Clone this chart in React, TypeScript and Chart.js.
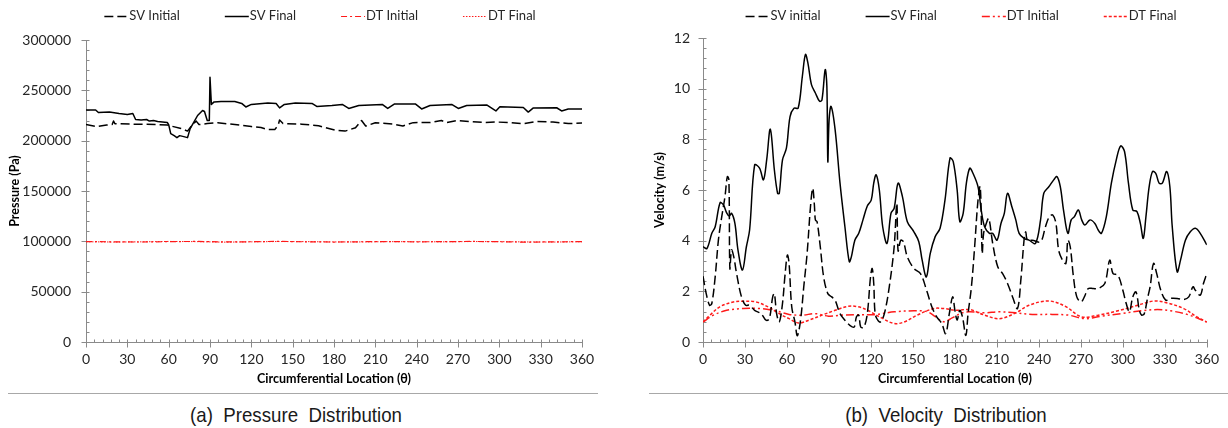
import React, { useEffect, useRef } from "react";
import { Chart, registerables } from "chart.js";

Chart.register(...registerables);

// ---------- (a) Pressure distribution, Pa ----------
const pThetaSvInitial = [0, 8, 15, 19, 20, 21, 35, 52, 59, 69, 73.7, 77, 80, 82, 88, 95.6, 108, 120, 127, 132, 137, 139.5, 140.5, 143, 156.6, 168.8, 181, 188, 195.6, 200, 203, 210, 223, 230, 237.5, 249.7, 258, 262, 269, 278.5, 289.6, 298, 307.6, 317, 327, 339, 350, 360];
const pSvInitial = [216000, 214000, 215500, 216000, 219500, 216800, 216400, 216000, 215500, 212000, 209500, 215500, 219400, 216000, 217000, 217800, 216000, 214000, 213000, 211000, 211000, 215500, 220500, 217000, 216400, 214800, 210500, 209500, 212800, 220000, 214500, 217800, 216500, 214600, 217900, 218000, 220000, 218000, 220000, 219000, 218000, 218500, 218000, 216800, 219000, 218500, 217000, 217500];

const pThetaSvFinal = [0, 7, 9, 17, 24, 30, 34, 36, 40, 44, 46, 49, 52, 59, 60, 61.5, 64, 66, 68, 71, 73.7, 75.6, 78.5, 81, 84.6, 86, 88, 89.5, 90, 91, 93, 98, 108, 113, 116, 120, 132, 138, 140.5, 144, 152, 164, 167.5, 178.5, 186, 190.7, 198, 215, 219, 224, 239, 243.6, 249.7, 265.4, 270.2, 276.3, 290.8, 297.5, 300.4, 317.4, 321, 324.7, 341.6, 345.2, 350, 360];
const pSvFinal = [230500, 230500, 228000, 228500, 227000, 226000, 227000, 221000, 220500, 221000, 219500, 220000, 219000, 218000, 216000, 207000, 205000, 203000, 205000, 204000, 203000, 212000, 219000, 225000, 230000, 229000, 220000, 220000, 263000, 236000, 238500, 239000, 239000, 237000, 233500, 236000, 237500, 237000, 232600, 236000, 237500, 237000, 234000, 235000, 236000, 232000, 235000, 236000, 232000, 236500, 236500, 231500, 235000, 236000, 232000, 235000, 235500, 229500, 233800, 233000, 228400, 232500, 232700, 229500, 231500, 231500];

const pThetaDt = [0, 20, 40, 60, 80, 100, 120, 140, 160, 180, 200, 220, 240, 260, 280, 300, 320, 340, 360];
const pDtInitial = [99800, 99500, 99300, 99700, 99900, 99400, 99600, 100000, 99500, 99300, 99600, 99800, 99500, 99700, 99900, 99600, 99200, 99500, 99700];
const pDtFinal = [99600, 99300, 99500, 99900, 99700, 99200, 99500, 99800, 99700, 99400, 99400, 99700, 99600, 99500, 99800, 99700, 99400, 99300, 99600];

// ---------- (b) Velocity distribution, m/s ----------
const vThetaSvInitial = [0, 2.3, 4.7, 6.3, 8.7, 11, 13.4, 15.7, 17.4, 18.5, 19.2, 20.4, 22, 24, 27.5, 30.5, 33.3, 36.9, 41.5, 45, 47.4, 49.8, 51, 52.6, 54.5, 56.8, 58.7, 60.3, 61.5, 63.4, 65.7, 67.4, 69.7, 72, 74.4, 76.8, 78.4, 79.6, 80.3, 81.5, 83.8, 86.2, 89.2, 92, 94.4, 97.9, 101.4, 104.9, 108, 109.6, 111.3, 112.7, 115, 117.4, 119.7, 120.9, 122, 123, 124.9, 126.8, 129.6, 133.1, 136.6, 138.5, 139.4, 141.3, 143.2, 146, 150.7, 155.4, 160, 163.5, 167, 170.6, 173.4, 176, 178.4, 180, 181.6, 183.5, 185.4, 187.8, 189.4, 191.8, 194.1, 196.5, 198.1, 199.5, 200.5, 202.4, 204.2, 207, 210.6, 214.1, 217.6, 221.2, 224.7, 227.1, 229.4, 230.6, 231.8, 235.3, 241.2, 244.7, 247.5, 249.9, 252.2, 254.1, 256.9, 259.3, 260.7, 262.4, 264.7, 267.1, 270.1, 272.5, 275.3, 278.8, 282.4, 287.1, 290.6, 293, 296.5, 300, 302.4, 304.7, 307.1, 309.4, 311.8, 313.4, 315.3, 317.6, 319.5, 321.9, 324.2, 327.1, 330.6, 334.1, 338.8, 343.5, 347.1, 350.1, 351.8, 355.3, 357.6, 360];
const vSvInitial = [2.6, 1.91, 1.45, 1.52, 2.57, 4.02, 4.95, 5.74, 6.53, 6.4, 2.9, 3.63, 3.36, 2.7, 1.78, 1.45, 1.45, 1.25, 1.12, 0.86, 0.92, 1.78, 1.91, 1.12, 0.79, 1.52, 2.7, 3.43, 3.1, 1.39, 0.79, 0.25, 0.86, 2.18, 3.5, 5.34, 6.07, 5.4, 4.82, 4.75, 3.76, 2.57, 1.91, 1.78, 1.65, 1.12, 0.86, 0.66, 0.59, 0.99, 1.06, 0.59, 0.59, 1.12, 2.57, 2.9, 2.31, 1.12, 0.86, 0.79, 1.12, 2.18, 3.76, 5.47, 3.6, 4.02, 3.96, 3.36, 2.9, 2.7, 2.0, 1.39, 0.99, 0.73, 0.33, 1.12, 1.78, 1.25, 0.86, 1.25, 0.99, 0.26, 1.12, 2.18, 3.76, 5.6, 6.13, 3.5, 4.29, 4.68, 4.88, 3.89, 2.97, 2.7, 2.31, 1.78, 1.32, 2.44, 4.02, 4.35, 4.02, 4.02, 3.96, 4.55, 4.95, 5.01, 4.68, 3.63, 3.23, 3.1, 4.02, 3.76, 2.57, 1.78, 1.58, 1.78, 2.11, 2.11, 2.11, 2.31, 3.23, 2.7, 2.64, 2.04, 1.52, 1.19, 1.78, 1.98, 1.25, 1.06, 1.12, 1.72, 2.18, 3.1, 2.7, 2.04, 1.65, 1.72, 1.72, 1.68, 1.78, 2.18, 2.04, 1.85, 2.31, 2.7];

const vThetaSvFinal = [0, 2.8, 6.3, 8.7, 12.2, 14.6, 16.9, 18.8, 20.4, 22.8, 25, 28.2, 31, 33.3, 36.9, 40.4, 43.2, 45.5, 48.1, 51, 53.3, 54.5, 56.8, 59.6, 62.2, 65, 68, 71, 73.2, 75, 77.5, 80.3, 83.3, 85, 87.3, 88.5, 89.2, 90.1, 91.5, 94.4, 97.9, 101.4, 104.5, 106, 108.5, 111.3, 114.3, 117.4, 120.2, 122, 123.7, 126, 128.4, 131.5, 134.3, 136.6, 139.4, 142.5, 146, 150.7, 154.2, 156.6, 159.6, 162.4, 165.9, 169.4, 172.9, 176.5, 178.8, 181.6, 183.5, 185.9, 188.2, 190.6, 192.9, 196.5, 198.8, 201.2, 204.7, 207, 210.1, 212.9, 215.3, 217.6, 220.7, 223.5, 225.9, 229.4, 232.9, 237.6, 241.2, 243.5, 247.1, 250.6, 252.9, 255.3, 257.6, 260.7, 263.1, 265.4, 268.2, 270.6, 272.9, 276.5, 280, 282.4, 284.7, 288.2, 291.8, 295.3, 298.4, 301.2, 304, 307.1, 310.1, 312.5, 314.6, 316.5, 318.8, 321.2, 323.5, 325.9, 328.2, 331.3, 333.6, 335.3, 338.8, 341.2, 344.7, 348.2, 351.8, 355.3, 360];
const vSvFinal = [3.76, 3.69, 4.29, 4.55, 5.5, 5.41, 5.1, 4.97, 5.08, 4.68, 3.63, 2.84, 3.76, 4.42, 6.99, 6.86, 6.4, 7.19, 8.4, 6.79, 5.87, 5.87, 7.19, 7.65, 8.9, 9.23, 9.23, 10.49, 11.35, 11.0, 10.16, 9.83, 9.5, 9.56, 10.75, 10.1, 7.12, 8.77, 9.3, 8.38, 6.27, 4.55, 3.17, 3.36, 4.02, 4.29, 4.82, 5.37, 5.6, 6.27, 6.6, 6.0, 4.55, 3.89, 5.08, 5.28, 6.27, 5.74, 4.75, 4.35, 3.96, 3.23, 2.57, 3.5, 4.16, 4.49, 5.6, 7.26, 7.12, 6.0, 4.75, 5.08, 6.27, 6.86, 6.66, 6.13, 5.21, 4.55, 4.29, 4.29, 4.02, 4.68, 5.08, 5.87, 5.34, 4.82, 4.29, 4.09, 4.02, 3.89, 4.82, 5.87, 6.13, 6.4, 6.53, 6.13, 5.21, 4.29, 4.82, 4.95, 5.21, 4.82, 4.62, 4.82, 4.68, 4.42, 4.29, 4.95, 6.27, 7.19, 7.74, 7.52, 6.27, 5.21, 5.15, 4.68, 4.09, 4.95, 6.13, 6.73, 6.66, 6.27, 6.27, 6.73, 6.13, 4.55, 2.77, 3.23, 4.02, 4.35, 4.49, 4.29, 3.83];

const vThetaDtInitial = [0, 7.5, 16.9, 28.6, 40.4, 52.1, 61.5, 71, 80.3, 89.7, 99, 108.5, 122.5, 136.6, 150.7, 160, 166, 172, 178, 185, 190.6, 201, 211.8, 223.5, 235.3, 249.4, 261.2, 273, 284.7, 298.8, 312.9, 324.7, 334.1, 345.9, 360];
const vDtInitial = [0.79, 1.06, 1.25, 1.32, 1.32, 1.23, 1.09, 1.06, 1.12, 1.02, 1.06, 1.08, 1.08, 1.19, 1.23, 1.2, 1.0, 0.8, 0.95, 1.15, 1.19, 1.15, 1.19, 1.15, 1.09, 1.09, 1.06, 0.92, 1.02, 1.12, 1.23, 1.28, 1.23, 1.09, 0.79];

const vThetaDtFinal = [0, 5, 12, 21.6, 28.6, 38, 47.4, 54.5, 61.5, 68.5, 75.6, 85, 94.4, 103.8, 110.8, 117.8, 127.2, 136.6, 143.7, 153, 164.8, 172, 181.2, 190.6, 201.2, 211.8, 223.5, 232.9, 247, 258.8, 270.6, 282.4, 296.5, 310.6, 322.4, 331.8, 343.5, 352.9, 360];
const vDtFinal = [0.79, 1.06, 1.39, 1.58, 1.61, 1.58, 1.36, 1.12, 0.92, 0.75, 0.86, 1.06, 1.25, 1.41, 1.39, 1.25, 0.96, 0.73, 0.79, 1.06, 1.32, 1.32, 1.25, 1.28, 1.06, 0.92, 1.15, 1.45, 1.62, 1.41, 0.99, 1.06, 1.23, 1.45, 1.62, 1.54, 1.32, 0.99, 0.79];

const FONT = "Lato, 'DejaVu Sans', sans-serif";
const TEXT = "#262626";
const AXIS = "#8a8a8a";
const RED = "#ff1a1a";

const pts = (xs: number[], ys: number[]) => xs.map((x, i) => ({ x, y: ys[i] }));

// Axis lines with Excel-style major (crossing) and minor (inside) tick marks
const axisDecor = {
  id: "axisDecor",
  beforeDatasetsDraw(chart: any, _args: any, opts: any) {
    const { ctx, chartArea: a, scales } = chart;
    const xs = scales.x;
    const ys = scales.y;
    const bx = Math.round(a.left) + 0.5;
    const by = Math.round(a.bottom) + 0.5;
    ctx.save();
    ctx.strokeStyle = AXIS;
    ctx.lineWidth = 1;
    ctx.beginPath();
    ctx.moveTo(bx, Math.round(a.top));
    ctx.lineTo(bx, by);
    ctx.lineTo(Math.round(a.right) + 1, by);
    const isMajor = (v: number, step: number) => Math.abs(v / step - Math.round(v / step)) < 1e-6;
    for (let i = 0; ; i++) {
      const v = xs.min + i * opts.xMinor;
      if (v > xs.max + 1e-9) break;
      const px = Math.round(xs.getPixelForValue(v)) + 0.5;
      ctx.moveTo(px, by - 3);
      ctx.lineTo(px, isMajor(v, opts.xMajor) ? by + 5 : by);
    }
    for (let i = 0; ; i++) {
      const v = ys.min + i * opts.yMinor;
      if (v > ys.max + 1e-9) break;
      const py = Math.round(ys.getPixelForValue(v)) + 0.5;
      ctx.moveTo(isMajor(v, opts.yMajor) ? bx - 5 : bx, py);
      ctx.lineTo(bx + 3, py);
    }
    ctx.stroke();
    ctx.restore();
  },
};

// Single-row legend with line samples drawn in each series' own stroke style
const lineLegend = {
  id: "lineLegend",
  afterDraw(chart: any, _args: any, opts: any) {
    const { ctx } = chart;
    ctx.save();
    ctx.font = `13px ${FONT}`;
    const items = chart.data.datasets.map((ds: any) => ({ ds, w: ctx.measureText(ds.label).width }));
    const sample = 24;
    const textGap = 1;
    const gap = opts.gap;
    const total =
      items.reduce((s: number, it: any) => s + sample + textGap + it.w, 0) + gap * (items.length - 1);
    let x = opts.center - total / 2;
    const y = opts.y;
    for (const { ds, w } of items) {
      ctx.strokeStyle = ds.borderColor;
      ctx.lineWidth = ds.borderWidth;
      ctx.setLineDash(ds.borderDash || []);
      ctx.beginPath();
      ctx.moveTo(x, Math.round(y) + 0.5);
      ctx.lineTo(x + sample, Math.round(y) + 0.5);
      ctx.stroke();
      ctx.setLineDash([]);
      ctx.fillStyle = TEXT;
      ctx.textBaseline = "middle";
      ctx.textAlign = "left";
      ctx.fillText(ds.label, x + sample + textGap, y);
      x += sample + textGap + w + gap;
    }
    ctx.restore();
  },
};

type Panel = {
  datasets: any[];
  yMax: number;
  yStep: number;
  yMinor: number;
  yTitle: string;
  yTitlePad: number;
  yWidth: number;
  yTickPad: number;
  padTop: number;
  padRight: number;
  tension: number;
  legendCenter: number;
};

function buildConfig(p: Panel): any {
  return {
    type: "line",
    data: { datasets: p.datasets },
    plugins: [axisDecor, lineLegend],
    options: {
      animation: false,
      responsive: false,
      devicePixelRatio: 1,
      layout: { padding: { top: p.padTop, right: p.padRight, left: 0, bottom: 0 } },
      elements: {
        point: { radius: 0, hoverRadius: 0 },
        line: { tension: p.tension, fill: false, borderCapStyle: "butt", borderJoinStyle: "round" },
      },
      plugins: {
        legend: { display: false },
        tooltip: { enabled: false },
        axisDecor: { xMajor: 30, xMinor: 6, yMajor: p.yStep, yMinor: p.yMinor },
        lineLegend: { center: p.legendCenter, y: 16, gap: 45 },
      },
      scales: {
        x: {
          type: "linear",
          min: 0,
          max: 360,
          grid: { display: false, drawTicks: false },
          border: { display: false },
          ticks: {
            stepSize: 30,
            autoSkip: false,
            maxRotation: 0,
            padding: 9,
            color: TEXT,
            font: { family: FONT, size: 14 },
          },
          title: {
            display: true,
            text: "Circumferential Location (θ)",
            color: "#000",
            font: { family: FONT, size: 12.5, weight: "bold" },
            padding: { top: 0, bottom: 14 },
          },
          afterFit: (s: any) => {
            s.height = 58;
          },
        },
        y: {
          type: "linear",
          min: 0,
          max: p.yMax,
          grid: { display: false, drawTicks: false },
          border: { display: false },
          ticks: {
            stepSize: p.yStep,
            padding: p.yTickPad,
            color: TEXT,
            font: { family: FONT, size: 14 },
            callback: (v: any) => String(v),
          },
          title: {
            display: true,
            text: p.yTitle,
            color: "#000",
            font: { family: FONT, size: 12.5, weight: "bold" },
            padding: { top: p.yTitlePad, bottom: 0 },
          },
          afterFit: (s: any) => {
            s.width = p.yWidth;
          },
        },
      },
    },
  };
}

const pressurePanel: Panel = {
  datasets: [
    { label: "SV Initial", data: pts(pThetaSvInitial, pSvInitial), borderColor: "#000", borderWidth: 1.5, borderDash: [9, 4] },
    { label: "SV Final", data: pts(pThetaSvFinal, pSvFinal), borderColor: "#000", borderWidth: 1.5 },
    { label: "DT Initial", data: pts(pThetaDt, pDtInitial), borderColor: RED, borderWidth: 1.2, borderDash: [6, 3, 2, 3] },
    { label: "DT Final", data: pts(pThetaDt, pDtFinal), borderColor: RED, borderWidth: 1, borderDash: [1.5, 1.5] },
  ],
  yMax: 300000,
  yStep: 50000,
  yMinor: 10000,
  yTitle: "Pressure (Pa)",
  yTitlePad: 7,
  yWidth: 86,
  yTickPad: 15,
  padTop: 40,
  padRight: 32,
  tension: 0,
  legendCenter: 320,
};

const velocityPanel: Panel = {
  datasets: [
    { label: "SV initial", data: pts(vThetaSvInitial, vSvInitial), borderColor: "#000", borderWidth: 1.5, borderDash: [9, 4] },
    { label: "SV Final", data: pts(vThetaSvFinal, vSvFinal), borderColor: "#000", borderWidth: 1.5 },
    { label: "DT Initial", data: pts(vThetaDtInitial, vDtInitial), borderColor: RED, borderWidth: 1.5, borderDash: [8, 3, 2, 3, 2, 3] },
    { label: "DT Final", data: pts(vThetaDtFinal, vDtFinal), borderColor: RED, borderWidth: 1.5, borderDash: [3, 2] },
  ],
  yMax: 12,
  yStep: 2,
  yMinor: 0.4,
  yTitle: "Velocity (m/s)",
  yTitlePad: 38,
  yWidth: 89,
  yTickPad: 13,
  padTop: 38,
  padRight: 15,
  tension: 0.35,
  legendCenter: 347,
};

function ChartPanel({ panel, left }: { panel: Panel; left: number }) {
  const ref = useRef<HTMLCanvasElement | null>(null);
  useEffect(() => {
    if (!ref.current) return;
    const chart = new Chart(ref.current, buildConfig(panel));
    return () => chart.destroy();
  }, [panel]);
  return (
    <canvas
      ref={ref}
      width={614}
      height={400}
      style={{ position: "absolute", left, top: 0, width: 614, height: 400 }}
    />
  );
}

const captionStyle: React.CSSProperties = {
  position: "absolute",
  top: 402,
  width: 400,
  textAlign: "center",
  fontFamily: "'Liberation Sans', Arial, sans-serif",
  fontSize: 21,
  lineHeight: "26px",
  color: "#1a1a1a",
  whiteSpace: "pre",
  transform: "scaleX(0.89)",
  transformOrigin: "center",
};

export default function App() {
  return (
    <div
      style={{
        position: "absolute",
        left: 0,
        top: 0,
        width: 1228,
        height: 428,
        background: "#fff",
        overflow: "hidden",
      }}
    >
      <ChartPanel panel={pressurePanel} left={0} />
      <ChartPanel panel={velocityPanel} left={614} />
      <div style={{ position: "absolute", left: 8, top: 393, width: 590, height: 1, background: "#a8a8a8" }} />
      <div style={{ position: "absolute", left: 649, top: 393, width: 579, height: 1, background: "#a8a8a8" }} />
      <div style={{ ...captionStyle, left: 96 }}>{"(a)  Pressure  Distribution"}</div>
      <div style={{ ...captionStyle, left: 746 }}>{"(b)  Velocity  Distribution"}</div>
    </div>
  );
}
